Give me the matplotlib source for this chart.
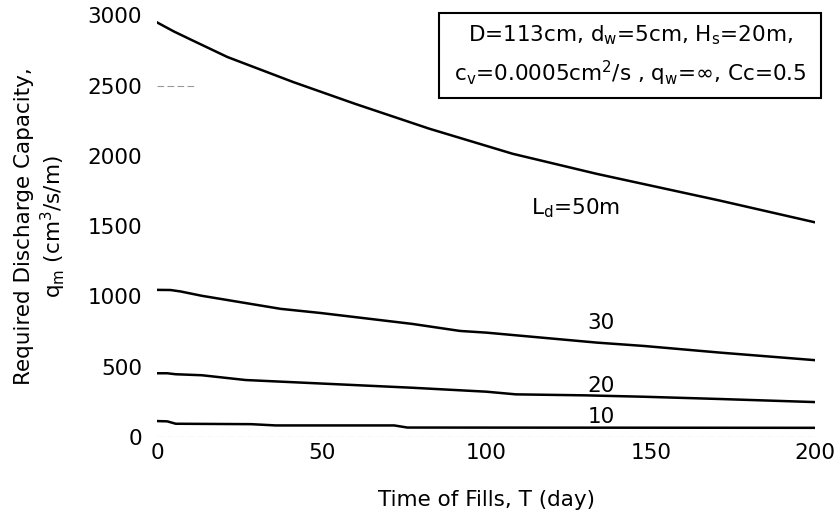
import matplotlib.pyplot as plt
from matplotlib.patches import Rectangle

plt.rcParams['font.family'] = ['DejaVu Sans']
plt.rcParams['mathtext.default'] = 'regular'

# Time of fills (day) and required discharge capacity, one pair per drain length
t_50 = [0, 5, 10.6, 21.3, 41.3, 60, 82.7, 108, 133.6, 171, 200]
q_50 = [2948, 2885, 2822, 2703, 2525, 2371, 2193, 2015, 1872, 1682, 1527]

t_30 = [0, 4, 7, 13.5, 37.5, 49.5, 77.5, 92, 100, 133.6, 148, 171, 200]
q_30 = [1047, 1046, 1036, 1005, 912, 883, 805, 755, 743, 672, 648, 601, 547]

t_20 = [0, 3, 5.6, 13.5, 26.8, 77.5, 100, 109, 130, 148, 171, 200]
q_20 = [454, 454, 447, 440, 406, 351, 323, 304, 297, 287, 271, 249]

t_10 = [0, 3, 5.6, 28.5, 36, 72, 76, 200]
q_10 = [114, 112, 95, 92, 83, 83, 68, 66]

curves = [(t_50, q_50), (t_30, q_30), (t_20, q_20), (t_10, q_10)]

curve_labels = ["L$_d$=50m", "30", "20", "10"]
label_pos = [(127, 1630), (135, 815), (135, 360), (135, 140)]

x_ticks = [0, 50, 100, 150, 200]
y_ticks = [0, 500, 1000, 1500, 2000, 2500, 3000]

fs = 15.5

fig = plt.figure(figsize=(8.37, 5.26), dpi=100)
ax = fig.add_axes([0.188, 0.169, 0.786, 0.802])

for t, q in curves:
    ax.plot(t, q, color='black', lw=1.8)

for text, (x, y) in zip(curve_labels, label_pos):
    ax.text(x, y, text, fontsize=fs, ha='center', va='center')

# faded grid remnants from the scan
ax.axhline(0, color='0.6', lw=0.8, ls=(0, (6, 3)), zorder=0)
ax.plot([0, 12], [2500, 2500], color='0.6', lw=0.8, ls=(0, (6, 3)), zorder=0)

# parameter box
ax.add_patch(Rectangle((0.4286, 0.803), 0.58, 0.202, transform=ax.transAxes,
                       fc='white', ec='black', lw=1.5, clip_on=False, zorder=3))
ax.text(0.719, 0.904,
        "D=113cm, d$_w$=5cm, H$_s$=20m,\nc$_v$=0.0005cm$^2$/s , q$_w$=$\\infty$, Cc=0.5",
        transform=ax.transAxes, ha='center', va='center', fontsize=fs,
        multialignment='center', linespacing=1.5, zorder=4)

ax.set_xlim(0, 200)
ax.set_ylim(0, 3000)
ax.set_xticks(x_ticks)
ax.set_yticks(y_ticks)
ax.tick_params(axis='y', length=0, labelsize=fs, pad=11)
ax.tick_params(axis='x', length=0, labelsize=fs, pad=4)
for s in ax.spines.values():
    s.set_visible(False)

ax.set_xlabel("Time of Fills, T (day)", fontsize=fs, labelpad=20)
ax.set_ylabel("Required Discharge Capacity,\nq$_m$ (cm$^3$/s/m)", fontsize=fs, labelpad=14)

fig.savefig("out.png", dpi=100)
